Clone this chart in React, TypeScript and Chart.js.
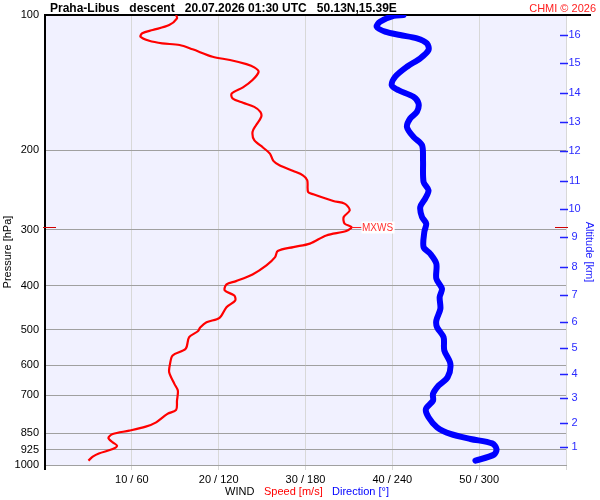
import { useEffect, useRef } from 'react';
import { Chart, registerables } from 'chart.js';

Chart.register(...registerables);

const FONT = '"Liberation Sans", Arial, Helvetica, sans-serif';

// Wind speed profile (m/s) vs pressure (hPa)
const speedPressure = [100, 101.7, 105.3, 108.0, 109.8, 111.8, 114.1, 115.6, 116.6, 119.2, 123.8, 125.9, 128.6, 130.7, 133.7, 139.5, 144.8, 149.4, 153.2, 156.7, 160.0, 164.1, 168.4, 175.8, 181.8, 189.7, 197.0, 203.2, 211.0, 215.8, 222.2, 227.1, 232.9, 247.4, 250.3, 259.1, 262.5, 271.6, 281.1, 290.8, 296.0, 302.1, 308.9, 322.2, 327.9, 334.6, 345.1, 360.0, 377.1, 390.3, 397.0, 409.4, 420.2, 431.1, 446.2, 470.9, 481.6, 494.1, 504.3, 520.0, 551.8, 571.1, 596.0, 622.2, 660.3, 683.3, 719.3, 754.4, 770.0, 803.9, 821.8, 838.8, 853.1, 870.8, 890.7, 906.0, 921.6, 942.6, 958.5, 978.1];
const speedValues = [15.1, 15.2, 14.3, 12.4, 11.2, 11.0, 12.0, 13.5, 15.5, 17.0, 19.3, 21.3, 23.2, 24.1, 24.6, 23.9, 22.8, 21.5, 21.6, 22.8, 24.1, 24.8, 24.9, 24.3, 23.9, 24.1, 25.1, 25.9, 26.3, 27.0, 28.6, 29.7, 30.2, 30.3, 30.9, 33.2, 34.5, 35.1, 34.4, 34.5, 35.3, 34.7, 32.4, 30.5, 28.6, 26.8, 26.5, 25.5, 23.9, 22.0, 20.9, 20.7, 21.8, 21.9, 20.9, 20.1, 18.6, 17.9, 17.6, 16.6, 16.2, 14.7, 14.4, 14.3, 14.9, 15.3, 15.2, 15.1, 14.1, 12.8, 11.6, 9.7, 7.8, 7.3, 7.8, 8.3, 7.8, 6.2, 5.5, 5.0];

// Wind direction profile (deg) vs pressure (hPa)
const dirPressure = [100, 100.5, 103.5, 106.2, 108.9, 110.8, 112.7, 115.6, 119.6, 124.8, 130.3, 137.2, 143.2, 146.9, 152.0, 157.2, 164.1, 169.8, 177.3, 186.6, 194.7, 210.2, 235.0, 245.2, 255.9, 267.2, 281.1, 290.8, 303.6, 327.9, 339.2, 356.9, 385.5, 405.8, 423.6, 449.6, 477.5, 494.1, 520.0, 556.6, 596.0, 638.3, 666.1, 695.0, 719.3, 750.6, 783.5, 824.6, 853.1, 875.3, 895.3, 921.6, 948.9, 978.1];
const dirValues = [247.7, 240.8, 231.5, 229.2, 235.0, 245.4, 257.0, 263.9, 265.0, 259.3, 250.1, 241.9, 239.6, 244.2, 254.6, 258.1, 257.0, 252.3, 250.1, 254.6, 260.5, 261.2, 261.6, 265.0, 262.7, 259.3, 260.5, 263.4, 262.1, 261.6, 266.2, 270.4, 270.4, 274.3, 272.7, 273.2, 270.4, 270.9, 275.4, 275.9, 280.1, 278.2, 272.0, 268.1, 268.1, 263.2, 265.0, 270.9, 280.1, 294.0, 309.0, 312.0, 310.1, 297.4];

// Axis ticks
const pressureTicks = [100, 200, 300, 400, 500, 600, 700, 850, 925, 1000];
const windTicks = [10, 20, 30, 40, 50];
const windTickLabels = ['10 / 60', '20 / 120', '30 / 180', '40 / 240', '50 / 300'];
const kmLabels = [1, 2, 3, 4, 5, 6, 7, 8, 9, 10, 11, 12, 13, 14, 15, 16];
const kmPressures = [913.8, 806.3, 709.6, 627.3, 549.0, 481.6, 418.3, 363.3, 312.0, 269.9, 233.3, 200.8, 173.0, 149.1, 128.1, 110.6];

// Max wind marker
const mxwsSpeed = 35.3;
const mxwsPressure = 296.0;

const titleText = 'Praha-Libus   descent   20.07.2026 01:30 UTC   50.13N,15.39E';
const copyrightText = 'CHMI \u00A9 2026';

const decor = {
  id: 'decor',
  beforeDraw(chart: any) {
    const { ctx, chartArea: a } = chart;
    ctx.save();
    ctx.fillStyle = '#ffffff';
    ctx.fillRect(0, 0, chart.width, chart.height);
    ctx.fillStyle = '#f1f1ff';
    ctx.fillRect(a.left, a.top, a.right - a.left, a.bottom - a.top);
    ctx.restore();
  },
  beforeDatasetsDraw(chart: any) {
    const { ctx, chartArea: a, scales } = chart;
    ctx.save();
    ctx.strokeStyle = '#000';
    ctx.lineWidth = 2;
    ctx.beginPath();
    ctx.moveTo(a.left, a.top);
    ctx.lineTo(a.left, a.bottom + 5);
    ctx.stroke();
    ctx.beginPath();
    ctx.moveTo(a.left - 1, a.top);
    ctx.lineTo(591, a.top);
    ctx.stroke();
    ctx.strokeStyle = '#2020ff';
    ctx.lineWidth = 1.5;
    const yR = scales.yR;
    kmPressures.forEach((p) => {
      const y = Math.round(yR.getPixelForValue(p)) + 0.5;
      ctx.beginPath();
      ctx.moveTo(a.right - 6, y);
      ctx.lineTo(a.right + 2, y);
      ctx.stroke();
    });
    const my = Math.round(scales.y.getPixelForValue(mxwsPressure)) + 0.5;
    ctx.strokeStyle = '#d00000';
    ctx.lineWidth = 1;
    ctx.beginPath();
    ctx.moveTo(a.left - 2, my);
    ctx.lineTo(a.left + 11, my);
    ctx.moveTo(a.right - 11, my);
    ctx.lineTo(a.right + 2, my);
    ctx.stroke();
    ctx.restore();
  },
  afterDatasetsDraw(chart: any) {
    const { ctx, scales } = chart;
    ctx.save();
    ctx.textBaseline = 'alphabetic';
    ctx.textAlign = 'left';
    ctx.fillStyle = '#000';
    ctx.font = `bold 12px ${FONT}`;
    ctx.fillText(titleText, 50, 12);
    ctx.textAlign = 'right';
    ctx.fillStyle = '#ff2020';
    ctx.font = `11px ${FONT}`;
    ctx.fillText(copyrightText, 596, 12);

    ctx.textAlign = 'center';
    ctx.textBaseline = 'middle';
    ctx.fillStyle = '#000';
    ctx.save();
    ctx.translate(8, 252);
    ctx.rotate(-Math.PI / 2);
    ctx.fillText('Pressure [hPa]', 0, 0);
    ctx.restore();
    ctx.save();
    ctx.fillStyle = '#2020ff';
    ctx.translate(589.5, 252);
    ctx.rotate(Math.PI / 2);
    ctx.fillText('Altitude [km]', 0, 0);
    ctx.restore();

    ctx.textAlign = 'left';
    ctx.textBaseline = 'alphabetic';
    ctx.fillStyle = '#000';
    ctx.fillText('WIND', 225, 495);
    ctx.fillStyle = '#ff0000';
    ctx.fillText('Speed [m/s]', 264, 495);
    ctx.fillStyle = '#0000ff';
    ctx.fillText('Direction [\u00B0]', 332, 495);

    const mx = scales.x.getPixelForValue(mxwsSpeed);
    const my = Math.round(scales.y.getPixelForValue(mxwsPressure)) + 0.5;
    ctx.strokeStyle = '#ff2020';
    ctx.lineWidth = 1;
    ctx.beginPath();
    ctx.moveTo(mx, my);
    ctx.lineTo(mx + 10, my);
    ctx.stroke();
    ctx.font = `10px ${FONT}`;
    const w = ctx.measureText('MXWS').width;
    ctx.fillStyle = '#ffffff';
    ctx.fillRect(mx + 10, my - 6, w + 2, 12);
    ctx.fillStyle = '#ff3030';
    ctx.textBaseline = 'middle';
    ctx.fillText('MXWS', mx + 10.5, my + 1);
    ctx.restore();
  },
};

export default function App() {
  const ref = useRef<HTMLCanvasElement>(null);
  useEffect(() => {
    document.body.style.margin = '0';
    const canvas = ref.current;
    if (!canvas) return;
    const tickFont = { size: 11, family: FONT };
    const chart = new Chart(canvas, {
      type: 'scatter',
      data: {
        datasets: [
          {
            label: 'Direction',
            data: dirPressure.map((p, i) => ({ x: dirValues[i], y: p })),
            xAxisID: 'x2',
            yAxisID: 'y',
            showLine: true,
            borderColor: '#0000ff',
            backgroundColor: '#0000ff',
            borderWidth: 6,
            pointRadius: 0,
            tension: 0.3,
            borderJoinStyle: 'round',
            borderCapStyle: 'round',
          },
          {
            label: 'Speed',
            data: speedPressure.map((p, i) => ({ x: speedValues[i], y: p })),
            xAxisID: 'x',
            yAxisID: 'y',
            showLine: true,
            borderColor: '#ff0000',
            backgroundColor: '#ff0000',
            borderWidth: 2.2,
            pointRadius: 0,
            tension: 0.3,
            borderJoinStyle: 'round',
          },
        ],
      } as any,
      options: {
        responsive: false,
        animation: false,
        events: [],
        layout: { padding: { top: 15, left: 0, right: 0, bottom: 0 } },
        plugins: { legend: { display: false }, tooltip: { enabled: false }, title: { display: false } },
        scales: {
          x: {
            type: 'linear',
            position: 'bottom',
            min: 0,
            max: 60,
            ticks: {
              stepSize: 10,
              autoSkip: false,
              maxRotation: 0,
              padding: 3,
              color: '#000',
              font: tickFont,
              callback: (v: any) => {
                const i = windTicks.indexOf(Number(v));
                return i >= 0 ? windTickLabels[i] : '';
              },
            },
            grid: { color: '#d8d8d8', drawTicks: true, tickLength: 5, tickColor: '#d8d8d8' },
            border: { color: '#a0a0a0' },
            afterFit: (s: any) => { s.height = 35; },
          },
          x2: { type: 'linear', display: false, min: 0, max: 360, position: 'bottom' },
          y: {
            type: 'logarithmic',
            position: 'left',
            reverse: true,
            min: 100,
            max: 1000,
            afterBuildTicks: (s: any) => { s.ticks = pressureTicks.map((v) => ({ value: v })); },
            ticks: { autoSkip: false, padding: 6, color: '#000', font: tickFont, callback: (v: any) => String(v) },
            grid: { color: '#a0a0a0', drawTicks: false },
            border: { display: false },
            afterFit: (s: any) => { s.width = 45; },
          },
          yR: {
            type: 'logarithmic',
            position: 'right',
            reverse: true,
            min: 100,
            max: 1000,
            afterBuildTicks: (s: any) => { s.ticks = kmPressures.map((v) => ({ value: v })); },
            ticks: {
              autoSkip: false,
              padding: 2.5,
              crossAlign: 'center',
              color: '#2a2aff',
              font: tickFont,
              callback: (_v: any, i: number) => String(kmLabels[i]),
            },
            grid: { display: false, drawTicks: false },
            border: { display: false },
            afterFit: (s: any) => { s.width = 34; },
          },
        },
      } as any,
      plugins: [decor],
    });
    return () => chart.destroy();
  }, []);
  return (
    <div style={{ position: 'absolute', left: 0, top: 0, width: 600, height: 500, background: '#fff' }}>
      <canvas ref={ref} width={600} height={500} style={{ width: 600, height: 500, display: 'block' }} />
    </div>
  );
}
